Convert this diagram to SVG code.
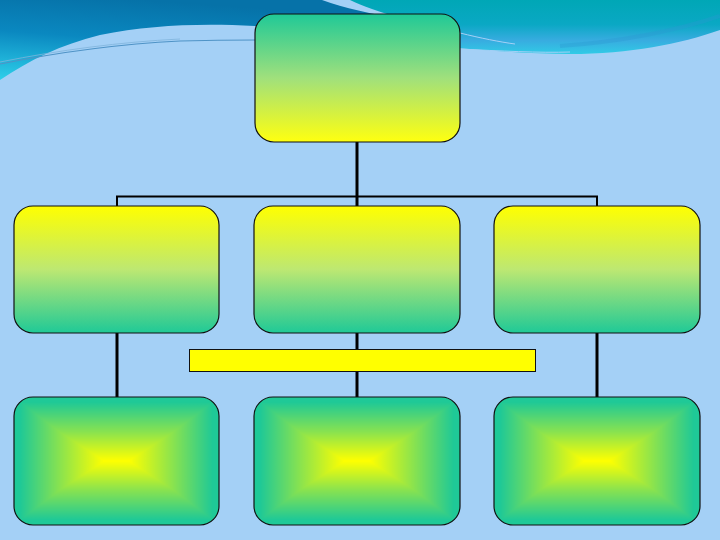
<svg xmlns="http://www.w3.org/2000/svg" width="720" height="540" viewBox="0 0 720 540">
  <defs>
    <linearGradient id="gDown" x1="0" y1="0" x2="0" y2="1">
      <stop offset="0" stop-color="#1FC997"/>
      <stop offset="0.5" stop-color="#A0E07C"/>
      <stop offset="1" stop-color="#FFFF10"/>
    </linearGradient>
    <linearGradient id="gUp" x1="0" y1="0" x2="0" y2="1">
      <stop offset="0" stop-color="#FFFF00"/>
      <stop offset="0.5" stop-color="#BDE872"/>
      <stop offset="1" stop-color="#1FC997"/>
    </linearGradient>
    <linearGradient id="mh" x1="0" y1="0" x2="1" y2="0">
      <stop offset="0" stop-color="#000"/>
      <stop offset="0.03" stop-color="#000"/>
      <stop offset="0.22" stop-color="#777"/>
      <stop offset="0.44" stop-color="#fff"/>
      <stop offset="0.56" stop-color="#fff"/>
      <stop offset="0.78" stop-color="#777"/>
      <stop offset="0.97" stop-color="#000"/>
      <stop offset="1" stop-color="#000"/>
    </linearGradient>
    <linearGradient id="mv" x1="0" y1="0" x2="0" y2="1">
      <stop offset="0" stop-color="#000"/>
      <stop offset="0.04" stop-color="#000"/>
      <stop offset="0.27" stop-color="#777"/>
      <stop offset="0.5" stop-color="#fff"/>
      <stop offset="0.73" stop-color="#777"/>
      <stop offset="0.96" stop-color="#000"/>
      <stop offset="1" stop-color="#000"/>
    </linearGradient>
    <mask id="rectMask" maskContentUnits="objectBoundingBox" x="0" y="0" width="1" height="1">
      <g style="isolation:isolate">
        <rect width="1" height="1" fill="url(#mh)"/>
        <rect width="1" height="1" fill="url(#mv)" style="mix-blend-mode:darken"/>
      </g>
    </mask>
    <linearGradient id="skyL" x1="0.35" y1="0" x2="0" y2="1">
      <stop offset="0" stop-color="#0672A8"/>
      <stop offset="0.45" stop-color="#0A88C0"/>
      <stop offset="1" stop-color="#2ED0EA"/>
    </linearGradient>
    <linearGradient id="skyR" x1="0" y1="0" x2="0" y2="1">
      <stop offset="0" stop-color="#00A7B6"/>
      <stop offset="0.45" stop-color="#0AA8C4"/>
      <stop offset="0.75" stop-color="#38ACE0"/>
      <stop offset="1" stop-color="#30CBE6"/>
    </linearGradient>
    <style>
      .node{stroke:#111;stroke-width:1.2}
      .conn{stroke:#000;fill:none;stroke-linecap:butt}
    </style>
  </defs>

  <rect width="720" height="540" fill="#A4D0F6"/>

  <g id="waves">
    <path d="M0,0 L322,0 C345,8 370,14 400,18 L400,26 L255,26 C200,23 150,25 100,35 C60,45 30,60 0,80 Z" fill="url(#skyL)"/>
    <path d="M0,64 C60,52 120,44 180,41 C220,40 240,40 260,40" fill="none" stroke="#4F93C6" stroke-width="1.2"/>
    <path d="M0,62 C60,50 120,42 180,39" fill="none" stroke="#7FB4DC" stroke-width="0.8"/>
    <path d="M350,0 L720,0 L720,30 C680,44 630,54 570,54 C530,54 495,51 455,48 L400,40 L400,18 C380,12 362,6 350,0 Z" fill="url(#skyR)"/>
    <path d="M460,33 C480,38 500,42 515,44" fill="none" stroke="#A4D0F6" stroke-width="1"/>
    <path d="M460,49 C500,51 540,53 570,52" fill="none" stroke="#A4D0F6" stroke-width="1"/>
    <path d="M560,46 C620,42 680,30 720,16" fill="none" stroke="#2A98D0" stroke-width="4" opacity="0.35"/>
  </g>

  <g id="connectors">
    <line class="conn" x1="357" y1="142" x2="357" y2="197" stroke-width="3"/>
    <polyline class="conn" points="117,206 117,196.5 597,196.5 597,206" stroke-width="2"/>
    <line class="conn" x1="357" y1="196" x2="357" y2="206" stroke-width="3"/>
    <line class="conn" x1="117" y1="333" x2="117" y2="397" stroke-width="3"/>
    <line class="conn" x1="357" y1="333" x2="357" y2="397" stroke-width="3"/>
    <line class="conn" x1="597" y1="333" x2="597" y2="397" stroke-width="3"/>
  </g>

  <g id="top">
    <rect class="node" x="255" y="14" width="205" height="128" rx="19" fill="url(#gDown)"/>
  </g>

  <g id="mid-left">
    <rect class="node" x="14" y="206" width="205" height="127" rx="19" fill="url(#gUp)"/>
  </g>
  <g id="mid-center">
    <rect class="node" x="254" y="206" width="206" height="127" rx="19" fill="url(#gUp)"/>
  </g>
  <g id="mid-right">
    <rect class="node" x="494" y="206" width="206" height="127" rx="19" fill="url(#gUp)"/>
  </g>

  <g id="bar">
    <rect x="189.5" y="349.5" width="346" height="22" fill="#FFFF00" stroke="#111" stroke-width="1"/>
  </g>

  <g id="bottom-left">
    <rect x="14" y="397" width="205" height="128" rx="19" fill="#1FC997"/>
    <rect x="14" y="397" width="205" height="128" rx="19" fill="#FFFF00" mask="url(#rectMask)"/>
    <rect class="node" x="14" y="397" width="205" height="128" rx="19" fill="none"/>
  </g>
  <g id="bottom-center">
    <rect x="254" y="397" width="206" height="128" rx="19" fill="#1FC997"/>
    <rect x="254" y="397" width="206" height="128" rx="19" fill="#FFFF00" mask="url(#rectMask)"/>
    <rect class="node" x="254" y="397" width="206" height="128" rx="19" fill="none"/>
  </g>
  <g id="bottom-right">
    <rect x="494" y="397" width="206" height="128" rx="19" fill="#1FC997"/>
    <rect x="494" y="397" width="206" height="128" rx="19" fill="#FFFF00" mask="url(#rectMask)"/>
    <rect class="node" x="494" y="397" width="206" height="128" rx="19" fill="none"/>
  </g>
</svg>
